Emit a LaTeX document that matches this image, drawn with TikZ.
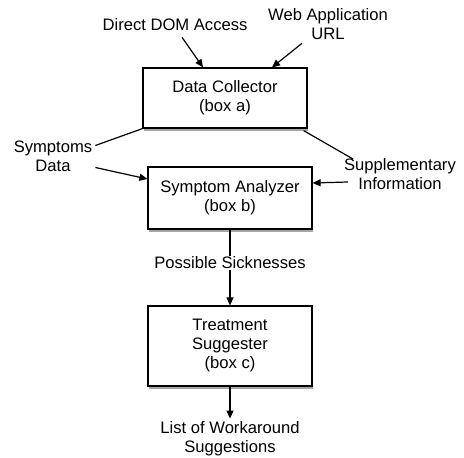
\documentclass[tikz,border=0pt]{standalone}
\usepackage{fontspec}
\setmainfont{Liberation Sans}
\usetikzlibrary{shapes,arrows.meta,positioning,shadows}
\tikzstyle{module} = [draw,line width=1.2pt,rectangle,fill=white,minimum width=164pt,align=center,
  drop shadow={shadow xshift=0.5pt,shadow yshift=-3pt,opacity=0.35,fill=black}]
\tikzstyle{flowtext} = [align=center,inner sep=3pt]
\tikzstyle{feed} = [-{Triangle[length=8pt,width=7pt]},line width=1.2pt]
\tikzstyle{tie} = [-,line width=1.2pt]
\def \fs {\fontsize{16.6pt}{19pt}\selectfont}

\begin{document}
\begin{tikzpicture}[x=1pt,y=-1pt,font=\fs]
      \useasboundingbox (0,0) rectangle (464,458);
      % boxes
      \node[module,minimum height=60pt] (collector) at (225,98) {Data Collector\\(box a)};
      \node[module,minimum height=62pt] (analyzer) at (230,198) {Symptom Analyzer\\(box b)};
      \node[module,minimum height=80pt] (suggester) at (230,346) {Treatment\\Suggester\\(box c)};
      % texts
      \node[flowtext] (dom) at (175,25) {Direct DOM Access};
      \node[flowtext] (web) at (328,24.5) {Web Application\\URL};
      \node[flowtext] (symptoms) at (53,156.5) {Symptoms\\Data};
      \node[flowtext] (supp) at (400,174) {Supplementary\\Information};
      \node[flowtext,inner sep=1pt] (sick) at (230,263) {Possible Sicknesses};
      \node[flowtext] (list) at (230,439) {List of Workaround\\Suggestions};
      % connectors
      \draw[feed] ([xshift=7pt,yshift=-3pt]dom.south) -- ([xshift=-22pt]collector.north);
      \draw[feed] ([xshift=-26pt]web.south) -- ([xshift=47pt]collector.north);
      \draw[tie] (collector.south west) -- ([yshift=11pt]symptoms.east);
      \draw[feed] ([yshift=-11pt]symptoms.east) -- ([yshift=19pt]analyzer.west);
      \draw[tie] ([xshift=-4pt,yshift=-2pt]collector.south east) -- ([xshift=12pt,yshift=15pt]supp.west);
      \draw[feed] ([xshift=7pt,yshift=-8pt]supp.west) -- ([yshift=15pt]analyzer.east);
      \draw[tie] (analyzer.south) -- (sick.north);
      \draw[feed] (sick.south) -- (suggester.north);
      \draw[feed] (suggester.south) -- (list.north);
    \end{tikzpicture}
\end{document}
